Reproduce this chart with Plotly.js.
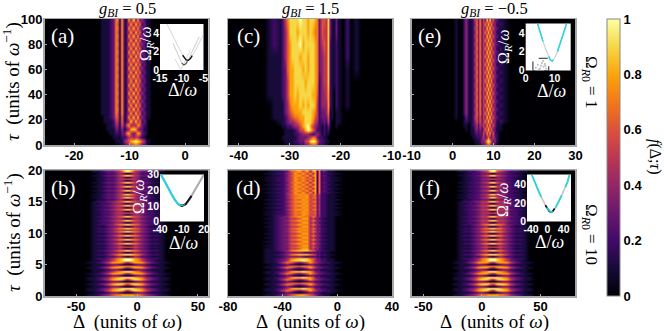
<!DOCTYPE html>
<html><head><meta charset="utf-8">
<script src="https://cdn.plot.ly/plotly-3.0.1.min.js"></script>
<style>html,body{margin:0;padding:0;background:#fff}</style></head>
<body><div id="c" style="width:664px;height:331px"></div>
<script>
// ---------- heatmap values ---------
// each character is one cell in tenths of f (a = 1.0); rows run from the top of the panel to the bottom
const aA='00011 12377 18128 49383 42110 00', aB='00011 12376 18134 83947 23110 00';
const xA=[-25.4,-16.5,-15.5,-15,-14.5,-14,-13.5,-13,-12.6,-12.2,-11.8,-11.4,-11,-10.6,-10.2,-9.8,-9.4,-9,-8.6,-8.2,-7.8,-7.4,-7,-6.6,-6,-5,4.3];
const rowsA=[aA,aB,aA,aB,aA,aB,aA,aB,aA,aB,aA,aB,aA,aB,aA,aB,aA,aB,aA,aB,aA,aB,aA,aB,
'00001 12366 17138 49393 42110 00','00001 11255 17134 94947 23100 00','00000 11244 16268 45486 32100 00',
'00000 11133 14134 89843 31100 00','00000 01122 13378 53587 32100 00','00000 00111 12235 54553 21000 00',
'00000 00011 11456 89a98 64110 00','00000 00000 11234 56765 32100 00'];

const xC=[-42,-35,-34,-33,-32,-31.5,-31,-30.5,-30,-29.5,-29,-28.5,-28,-27.5,-27,-26.5,-26,-25.5,-25,-24.6,-24.2,-23.8,-23.4,-23,-22.6,-22.2,-21.8,-21.4,-21,-20.5,-19.5,-18.8,-18,-17,-16,-10];
const yC=[0,3,6,9,12,15,18,22,26,32,40,50,60,70,80,90,100];
const rowsC=[
'00121257 9999a99899 87366593 1131020100',
'00121246 9998999898 77365593 1131020100',
'00121246 8999a89999 87356592 1121020100',
'00111246 8999899899 87345592 1121020100',
'00111236 8899989899 87345592 1121010100',
'00111235 8899998999 87245592 1121010000',
'00111235 8898999998 86244582 1021010000',
'00011134 7888989899 85244482 1021010000',
'00011134 6788899998 75233471 1011000000',
'00011123 5677889998 65233361 1011000000',
'00001123 4456789997 54223251 0011000000',
'00000112 2344689a85 43212131 0010000000',
'00000011 1123568a96 42212120 0000000000',
'00000011 1122344432 34312110 0000000000',
'00000111 1112333457 63221100 0000000000',
'00000011 112233569a 96322110 0000000000',
'00000001 1111223456 64221100 0000000000'];

const eA='00100 24112 56372 63949 46332 1100', eB='00100 24112 47373 47494 83421 2100';
const xE=[-10,0,0.8,1.4,2.2,2.8,3.2,3.8,4.4,5,5.4,5.8,6.2,6.6,7,7.4,7.8,8.2,8.6,9,9.4,9.8,10.2,10.6,11,11.6,12.4,14,30];
const rowsE=[eA,eB,eA,eB,eA,eB,eA,eB,eA,eB,eA,eB,eA,eB,eA,eB,eA,eB,eA,eB,eA,eB,eA,eB,
'00100 13112 56362 63949 46332 1100','00000 12112 46363 47494 83421 2100','00000 11012 35253 63848 36321 1000',
'00000 01011 34242 37494 73311 1000','00000 00011 23232 63848 36221 0000','00000 00001 12223 53474 35321 0000',
'00000 00000 11124 358a8 53421 0000','00000 00000 01112 33565 33210 0000'];

const xB=[-76,-44,-40,-36,-32,-28,-24,-20,-17,-14,-12,-10,-8,-6,-4,-2,1,4,8,12,16,20,24,28,58];
const b1='0001123345 79a97 5433211000', b2='0000112234 31013 4322110000';
const b3='0001223456 79a97 6543221000', b4='0001122344 31013 4432211000';
const b7='0001223467 89a98 7643221000', b8='0001112334 21012 4332111000';
const b5='0001223578 9aaa9 8753221000', b6='0001112234 21012 4322111000';
const bP='0001123578 9aaa9 8753211000', bQ='0011235888 75457 8885321100', bR='0001112332 10001 2332111000';
const bS='0011234789 aaaaa 9874321100', bT='0011235899 86468 9985321100', bU='0011234677 88888 7764321100';
const rowsB=[b1,b2,b1,b2,b1,b2,b1,b2,b1,b2,b1,b2,b1,b2,b1,b2,
b3,b4,b3,b4,b3,b4,b3,b4,b3,b4,b3,b4,
b7,b8,b7,b8,b7,b8,b7,b8,b7,b8,b7,b8,b7,b8,b7,b8,
b5,b6,b5,
bP,bQ,bR,bP,bQ,bR,bP,bQ,bR,bS,bT,bR,bS,bT,bR,bS,bT,bR,bU,bU];

const xD=[-80,-56,-52,-48,-44,-40,-37,-34,-31,-28,-25,-22.5,-20,-18,-16.5,-15,-13.5,-12,-10,-7,-4,0,4,8,40];
const d1='0001123678 68488 27231 10000', d2='0011224586 85848 27222 11000';
const dM1='0001124678 78577 35221 10000', dM2='0011223576 87656 34221 11000';
const d3='0001234678 77576 34221 10000', d4='0011233556 88453 42211 10000';
const d5='0011234789 99765 33221 10000', d6='0011123333 21222 22111 00000';
const dP='0011235899 a9864 33221 10000', dQ='0011257643 46865 43322 11000', dR='0001123210 12332 22111 10000';
const dU='0011234678 87654 32211 00000';
const rowsD=[d1,d2,d1,d2,d1,d2,d1,d2,d1,d2,d1,d2,
dM1,dM2,dM1,dM2,dM1,dM2,dM1,dM2,dM1,dM2,dM1,dM2,
d3,d4,d3,d4,d3,d4,d3,d4,d3,d4,d3,d4,d3,d4,d3,d4,d3,d4,
d5,d6,d5,d6,d5,
dP,dQ,dR,dP,dQ,dR,dP,dQ,dR,dP,dQ,dR,dP,dQ,dR,dP,dQ,dR,dU,dU];

const xF=[-60,-27,-23,-19,-15,-11,-7,-3,0,3,5,7,9,11,13,15,18,21,25,29,33,37,41,45,80];
const f1='0001122345 69a96 5432211000', f2='0000112233 31013 3322110000';
const f3='0001223455 79a97 5543221000', f4='0001122344 31013 4432211000';
const f7='0001223467 89a98 7643221000', f8='0001112334 21012 4332111000';
const f5='0001223578 9aaa9 8753221000', f6='0001112234 21012 4322111000';
const fP='0001123578 9aaa9 8753211000', fQ='0011235888 75457 8885321100', fR='0001112332 10001 2332111000';
const fS='0011234789 aaaaa 9874321100', fT='0011235899 86468 9985321100', fU='0011234677 88888 7764321100';
const rowsF=[f1,f2,f1,f2,f1,f2,f1,f2,f1,f2,f1,f2,f1,f2,f1,f2,
f3,f4,f3,f4,f3,f4,f3,f4,f3,f4,f3,f4,
f7,f8,f7,f8,f7,f8,f7,f8,f7,f8,f7,f8,f7,f8,f7,f8,
f5,f6,f5,
fP,fQ,fR,fP,fQ,fR,fP,fQ,fR,fS,fT,fR,fS,fT,fR,fS,fT,fR,fU,fU];

// ---------- inset curves ----------
const inAx1=[-13.4,-12,-11,-10,-9.5,-9,-8.5,-8,-7,-6,-5], inAy1=[5,3.6,2.7,1.8,1.4,1.1,1.05,1.25,2,2.9,3.9];
const inAx2=[-12,-11,-10.5,-10,-9.5,-9,-8.5,-8,-7,-6], inAy2=[2.9,1.8,1.2,0.75,0.55,0.7,1.1,1.6,2.6,3.6];
const inAx3=[-11.5,-11,-10.5,-10.2,-10,-9.5,-9,-8], inAy3=[1.2,0.6,0.2,0.05,0.2,0.7,1.2,2.2];
const inAx4=[-9.8,-9.5,-9,-8.5,-8,-7.6], inAy4=[1.6,1.4,1.1,1.05,1.25,1.55];
const inAx5=[-10,-9.5,-9,-8.7], inAy5=[0.75,0.55,0.7,0.95];

const inEx=[4.1,5,6,7,8,8.5,9.2,10,11,12,13,14.2], inEy=[5,4,3.1,2.2,1.5,1.15,1,1.3,2,3,4,5];
const inEcx=[4.1,5,6,null,8,8.5,9.2,9.6,null,11,12,13,14.2], inEcy=[5,4,3.1,null,1.5,1.15,1,1.1,null,2,3,4,5];
const boxX=[2.5,2.5,8,8,2.5], boxY=[0,1.3,1.3,0,0];
const speckX=[3.5,4.2,5,5.6,6.2,6.6,7.1,5.3,6,4.6,6.8], speckY=[0.3,0.6,0.2,0.8,0.4,0.7,0.2,0.5,1,0.1,0.5];

const inBx=[-40,-35,-30,-25,-20,-15,-10,-5,0,5,10,15,20], inBy=[31,27,22.5,18,14,11,10,11,14,18,22,26,30];
const inBcx=[-40,-35,-30,-25,-20,-15,-12], inBcy=[31,27,22.5,18,14,11,10.3];
const inBkx=[-14,-10,-5,0,3], inBky=[10.7,10,11,14,16.4];
const inBcx2=[-20,-15,-10,-6], inBcy2=[14,11,10,10.8];

const inFx=[-38,-30,-20,-10,0,5,9,13,20,30,40,50,54], inFy=[50,41,31,22,13.5,11,10,11,15,23,33,43,50];
const inFcx=[-38,-30,-20,-15,null,-2,5,9,13,null,20,30,35,null,44,50,54], inFcy=[50,41,31,26.5,null,15,11,10,11,null,15,23,28,null,37,43,50];
const inFkx=[-5,0,5,9,13,18], inFky=[17.5,13.5,11,10,11,14];

// ---------- ticks and colours ----------
const inferno=[[0,'#000004'],[0.1,'#160b39'],[0.2,'#420a68'],[0.3,'#6a176e'],[0.4,'#932667'],[0.5,'#bc3754'],[0.6,'#dd513a'],[0.7,'#f37819'],[0.8,'#fca50a'],[0.9,'#f6d746'],[1,'#fcffa4']];
const W=664,H=331;
const cells=r=>r.map(s=>s.replace(/ /g,'').split('').map(c=>parseInt(c,36)/10)).reverse();
const hm=(x,rows,xa,ya,extra)=>Object.assign({type:'heatmap',x:x,z:cells(rows),xaxis:xa,yaxis:ya,coloraxis:'coloraxis',zsmooth:'best',hoverinfo:'skip'},extra);
const ln=(x,y,xa,ya,color,width,dash)=>({type:'scatter',mode:'lines',x:x,y:y,xaxis:xa,yaxis:ya,hoverinfo:'skip',showlegend:false,line:{color:color,width:width,dash:dash||'solid'}});

const data=[
 hm(xA,rowsA,'x','y',{y0:0,dy:3.2}),
 hm(xB,rowsB,'x2','y2',{y0:0,dy:0.3}),
 hm(xC,rowsC,'x3','y3',{y:yC}),
 hm(xD,rowsD,'x4','y4',{y0:0,dy:0.3}),
 hm(xE,rowsE,'x5','y5',{y0:0,dy:3.2}),
 hm(xF,rowsF,'x6','y6',{y0:0,dy:0.3}),
 ln(inAx1,inAy1,'x7','y7','#cfcfcf',0.9), ln(inAx2,inAy2,'x7','y7','#c4c4c4',0.9), ln(inAx3,inAy3,'x7','y7','#d8d8d8',0.9), ln(inAx4,inAy4,'x7','y7','#111',1.4), ln(inAx5,inAy5,'x7','y7','#555',1.2),
 ln(inBx,inBy,'x8','y8','#aaa',2), ln(inBkx,inBky,'x8','y8','#111',2), ln(inBcx,inBcy,'x8','y8','#22d5e0',2), ln(inBcx2,inBcy2,'x8','y8','#22d5e0',1),
 ln(inEx,inEy,'x9','y9','#ccc',1.1), ln(inEcx,inEcy,'x9','y9','#22d5e0',1.5), ln(boxX,boxY,'x9','y9','#222',1,'dash'),
 {type:'scatter',mode:'markers',x:speckX,y:speckY,xaxis:'x9',yaxis:'y9',hoverinfo:'skip',showlegend:false,marker:{color:'#bbb',size:2}},
 ln(inFx,inFy,'x10','y10','#c4c4c4',1.6), ln(inFkx,inFky,'x10','y10','#111',1.7), ln(inFcx,inFcy,'x10','y10','#22d5e0',1.7)
];

const bold={family:'Liberation Sans, Arial, sans-serif',size:13,color:'#000'};
const inb={family:'Liberation Sans, Arial, sans-serif',size:10.5,color:'#fff'};
const b=t=>t.map(v=>'<b>'+v+'</b>');
const dx=(a,c)=>[a/W,c/W], dy=(a,c)=>[1-c/H,1-a/H];
const axis=(d,r,t,lab)=>({domain:d,range:r,tickvals:t,ticktext:b(t),tickfont:bold,showline:true,mirror:true,linecolor:'#a8a8a8',linewidth:1.5,ticks:'inside',ticklen:2,tickcolor:'#aaa',showgrid:false,zeroline:false,showticklabels:lab!==false,fixedrange:true,ticklabelstandoff:-2});
const inset=(d,r,t)=>({domain:d,range:r,tickvals:t,ticktext:b(t),tickfont:inb,showgrid:false,zeroline:false,showline:false,ticks:'',fixedrange:true});
const L=dx(44.5,208.5),M=dx(228,392),R=dx(411.7,575.5),T=dy(19,145),Bt=dy(170,296);

const layout={width:W,height:H,margin:{l:0,r:0,t:0,b:0},paper_bgcolor:'#fff',plot_bgcolor:'#fff',showlegend:false,
 coloraxis:{cmin:0,cmax:1,colorscale:inferno,colorbar:{x:607/W,xanchor:'left',y:1-296/H,yanchor:'bottom',len:277/H,lenmode:'fraction',thickness:13,thicknessmode:'pixels',xpad:0,ypad:0,outlinecolor:'#888',outlinewidth:1,tickvals:[0,0.2,0.4,0.6,0.8,1],ticktext:b(['0','0.2','0.4','0.6','0.8','1']),ticks:'',tickfont:bold}},
 xaxis:axis(L,[-25.35,4.2],[-20,-10,0]), yaxis:axis(T,[0,100],[0,20,40,60,80,100]),
 xaxis2:axis(L,[-76,58.7],[-50,0,50]), yaxis2:axis(Bt,[0,20],[0,5,10,15,20]),
 xaxis3:axis(M,[-42.1,-10],[-40,-30,-20,-10]), yaxis3:axis(T,[0,100],[0,20,40,60,80,100],false),
 xaxis4:axis(M,[-80,40],[-80,-40,0,40]), yaxis4:axis(Bt,[0,20],[0,5,10,15,20],false),
 xaxis5:axis(R,[-10,30],[-10,0,10,20,30]), yaxis5:axis(T,[0,100],[0,20,40,60,80,100],false),
 xaxis6:axis(R,[-60,80],[-50,0,50]), yaxis6:axis(Bt,[0,20],[0,5,10,15,20],false),
 xaxis7:inset(dx(160,203.5),[-15,-5],[-15,-10,-5]), yaxis7:inset(dy(24,70),[0,5],[0,2,4]),
 xaxis8:inset(dx(160,204),[-40,20],[-40,-10,20]), yaxis8:inset(dy(174.5,221.5),[0,30],[0,10,20,30]),
 xaxis9:inset(dx(525.7,570.7),[0,15.6],[0,10]), yaxis9:inset(dy(23.5,70.5),[0,5],[0,2,4]),
 xaxis10:inset(dx(527,571),[-50,58],[-40,0,40]), yaxis10:inset(dy(174.5,221.5),[0,50.5],[0,20,40]),
 annotations:[]
};
for(let i=1;i<=10;i++){const s=i===1?'':i;layout['xaxis'+s].anchor='y'+s;layout['yaxis'+s].anchor='x'+s;}

const serif='Liberation Serif, DejaVu Serif, serif';
const note=(text,px,py,size,color,angle)=>layout.annotations.push({xref:'paper',yref:'paper',x:px/W,y:1-py/H,xanchor:'center',yanchor:'middle',showarrow:false,text:text,textangle:angle||0,font:{family:serif,size:size,color:color||'#000'}});
note('<i>g<sub>BI</sub></i> = 0.5',127,9,16.5);
note('<i>g<sub>BI</sub></i> = 1.5',310,9,16.5);
note('<i>g<sub>BI</sub></i> = −0.5',494,9,16.5);
note('(a)',62,36,21,'#fff'); note('(c)',248,36,21,'#fff'); note('(e)',429,36,21,'#fff');
note('(b)',63,188,21,'#fff'); note('(d)',248,188,21,'#fff'); note('(f)',429,188,21,'#fff');
note('<i>τ</i>  (units of <i>ω</i><sup>−1</sup>)',12,82,19,'#000',-90);
note('<i>τ</i>  (units of <i>ω</i><sup>−1</sup>)',12,233,19,'#000',-90);
note('Δ  (units of <i>ω</i>)',127,322,19); note('Δ  (units of <i>ω</i>)',310,322,19); note('Δ  (units of <i>ω</i>)',494,322,19);
note('Ω<sub><i>R</i>0</sub> = 1',590,82,17,'#000',90);
note('Ω<sub><i>R</i>0</sub> = 10',590,234,17,'#000',90);
note('<i>f</i>(Δ;<i>τ</i>)',655,157,16,'#000',90);
note('Δ/<i>ω</i>',182,90,18,'#fff'); note('Δ/<i>ω</i>',551,91,18,'#fff');
note('Δ/<i>ω</i>',183,243,18,'#fff'); note('Δ/<i>ω</i>',549,242,18,'#fff');
note('Ω<sub><i>R</i></sub>/<i>ω</i>',146,44,16,'#fff',-90); note('Ω<sub><i>R</i></sub>/<i>ω</i>',504,47,16,'#fff',-90);
note('Ω<sub><i>R</i></sub>/<i>ω</i>',139,197,16,'#fff',-90); note('Ω<sub><i>R</i></sub>/<i>ω</i>',503,200,16,'#fff',-90);

Plotly.newPlot('c',data,layout,{staticPlot:true,displayModeBar:false});
</script></body></html>
